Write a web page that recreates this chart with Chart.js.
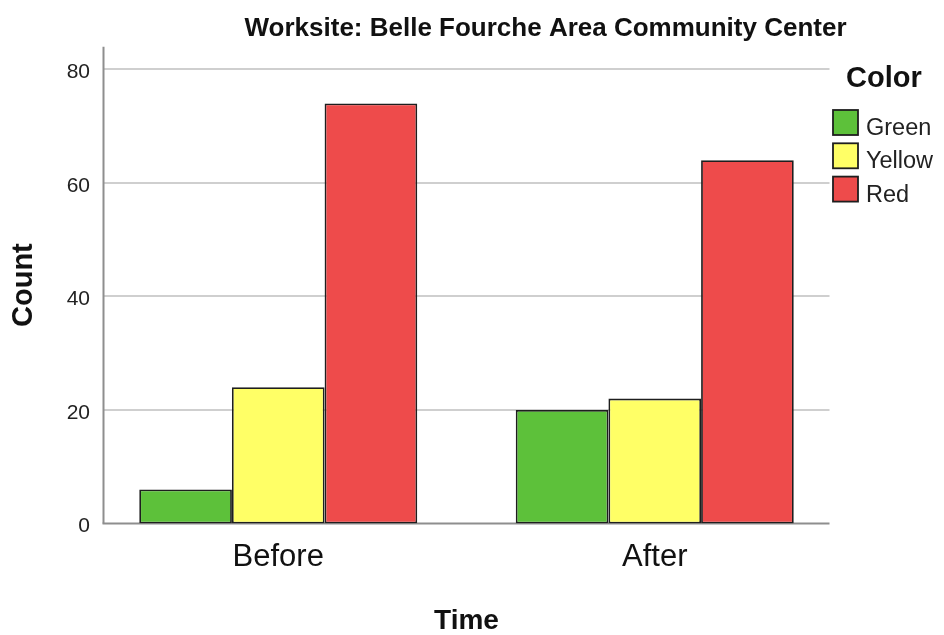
<!DOCTYPE html>
<html>
<head>
<meta charset="utf-8">
<style>
  html, body { margin: 0; padding: 0; background: #ffffff; }
  #wrap { width: 944px; height: 635px; }
</style>
<script src="https://cdn.jsdelivr.net/npm/chart.js@4.4.1/dist/chart.umd.min.js"></script>
</head>
<body>
<div id="wrap"><canvas id="c" width="944" height="635"></canvas></div>
<script>
// ---- data ----
const chartTitle = 'Worksite: Belle Fourche Area Community Center';
const categories = ['Before', 'After'];
const seriesNames = ['Green', 'Yellow', 'Red'];
const greenCounts = [6, 20];
const yellowCounts = [24, 22];
const redCounts = [74, 64];
const yTicks = [0, 20, 40, 60, 80];
const yMax = 84;
const legendTitle = 'Color';
const xTitle = 'Time';
const yTitle = 'Count';

// ---- styling ----
const FONT = '"Liberation Sans", Arial, Helvetica, sans-serif';
const fills = ['#5dc13a', '#ffff66', '#ee4b4b'];
const EDGE = '#1e1e1e';
const AXIS_INSET = 13.5;   // axis lines sit slightly inside the bar area

const seriesValues = [greenCounts, yellowCounts, redCounts];

const datasets = seriesNames.map((name, i) => ({
  label: name,
  data: seriesValues[i],
  backgroundColor: fills[i],
  borderColor: EDGE,
  borderWidth: 1.8,
  borderSkipped: false,
  categoryPercentage: 0.7384,
  barPercentage: 1.0
}));

// gridlines and axis lines
const framePlugin = {
  id: 'frame',
  beforeDatasetsDraw(chart) {
    const { ctx, chartArea: a, scales: { y } } = chart;
    const x0 = a.left + AXIS_INSET, x1 = a.right - AXIS_INSET;
    ctx.save();
    ctx.lineWidth = 2;
    ctx.strokeStyle = '#cfcfcf';
    yTicks.forEach(v => {
      if (v === 0) return;
      const py = Math.round(y.getPixelForValue(v));
      ctx.beginPath(); ctx.moveTo(x0, py); ctx.lineTo(x1, py); ctx.stroke();
    });
    ctx.strokeStyle = '#8e8e8e';
    const yb = y.getPixelForValue(0);
    ctx.beginPath(); ctx.moveTo(x0, a.top); ctx.lineTo(x0, yb); ctx.stroke();
    ctx.beginPath(); ctx.moveTo(x0 - 1, yb); ctx.lineTo(x1, yb); ctx.stroke();
    ctx.restore();
  }
};

// title and legend
const decorPlugin = {
  id: 'decor',
  afterDraw(chart) {
    const { ctx } = chart;
    ctx.save();
    ctx.fillStyle = '#111111';
    ctx.font = 'bold 26px ' + FONT;
    ctx.textAlign = 'center';
    ctx.textBaseline = 'alphabetic';
    ctx.fillText(chartTitle, 545.5, 36);

    ctx.textAlign = 'left';
    ctx.font = 'bold 29px ' + FONT;
    ctx.fillText(legendTitle, 846, 87);

    ctx.font = '23.5px ' + FONT;
    chart.data.datasets.forEach((ds, i) => {
      const by = 110 + i * 33.3;
      ctx.fillStyle = ds.backgroundColor;
      ctx.fillRect(833, by, 25, 25);
      ctx.strokeStyle = EDGE;
      ctx.lineWidth = 1.8;
      ctx.strokeRect(833, by, 25, 25);
      ctx.fillStyle = '#222222';
      ctx.fillText(ds.label, 866, by + 25);
    });
    ctx.restore();
  }
};

new Chart(document.getElementById('c'), {
  type: 'bar',
  data: { labels: categories, datasets },
  plugins: [framePlugin, decorPlugin],
  options: {
    responsive: false,
    animation: false,
    devicePixelRatio: 1,
    layout: { padding: { top: 46.7, right: 101, left: 0, bottom: 0 } },
    plugins: {
      legend: { display: false },
      title: { display: false },
      tooltip: { enabled: false }
    },
    scales: {
      x: {
        grid: { display: false, drawTicks: false },
        border: { display: false },
        ticks: { color: '#111111', font: { family: FONT, size: 31 }, padding: 15 },
        title: { display: true, text: xTitle, color: '#111111',
                 font: { family: FONT, size: 28, weight: 'bold' }, padding: { top: 0, bottom: -3 } },
        afterFit(scale) { scale.height = 111.5; }
      },
      y: {
        min: 0,
        max: yMax,
        grid: { display: false, drawTicks: false },
        border: { display: false },
        ticks: { color: '#222222', font: { family: FONT, size: 21 }, padding: 0, labelOffset: 3 },
        afterBuildTicks(scale) { scale.ticks = yTicks.map(v => ({ value: v })); },
        title: { display: true, text: yTitle, color: '#111111',
                 font: { family: FONT, size: 29, weight: 'bold' }, padding: { top: 7, bottom: 0 } },
        afterFit(scale) { scale.width = 90; }
      }
    }
  }
});
</script>
</body>
</html>
